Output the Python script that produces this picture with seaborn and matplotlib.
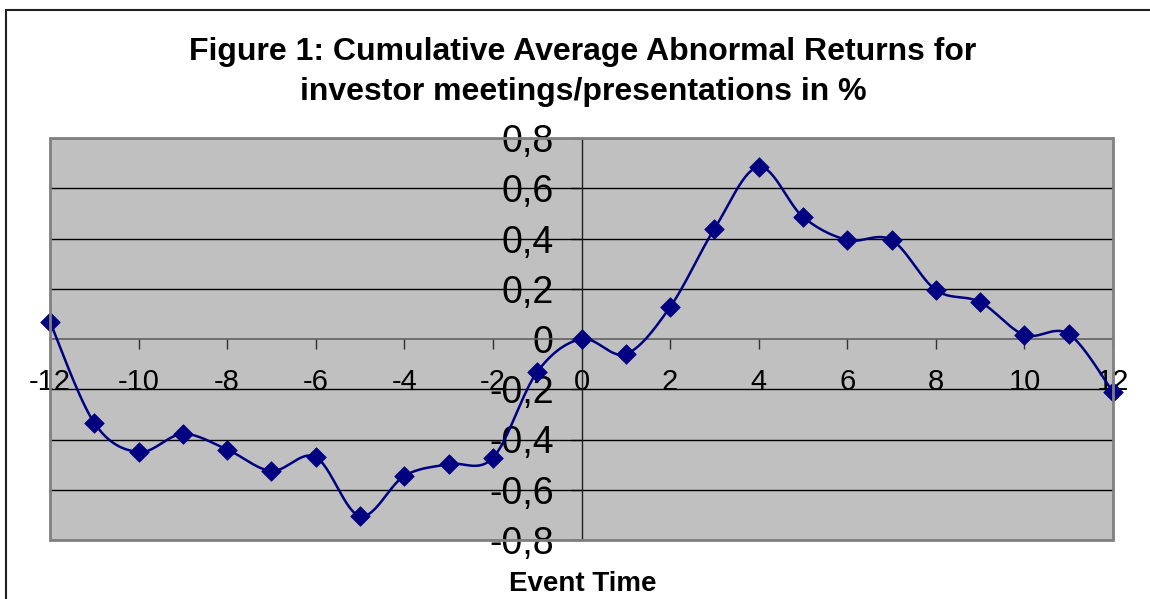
import numpy as np
import pandas as pd
import seaborn as sns
import matplotlib.pyplot as plt
from matplotlib.patches import Rectangle

### data
event_time = [-12, -11, -10, -9, -8, -7, -6, -5, -4, -3, -2, -1,
              0, 1, 2, 3, 4, 5, 6, 7, 8, 9, 10, 11, 12]
caar = [0.068, -0.334, -0.45, -0.378, -0.44, -0.525, -0.47, -0.705, -0.545, -0.498, -0.473, -0.131,
        0.0, -0.06, 0.127, 0.438, 0.685, 0.486, 0.394, 0.394, 0.195, 0.147, 0.016, 0.02, -0.211]
xticks = [-12, -10, -8, -6, -4, -2, 0, 2, 4, 6, 8, 10, 12]
yticks = [-0.8, -0.6, -0.4, -0.2, 0.0, 0.2, 0.4, 0.6, 0.8]
title_lines = ["Figure 1: Cumulative Average Abnormal Returns for",
               "investor meetings/presentations in %"]
xlabel = "Event Time"

sns.set_style("white")
plt.rcParams['font.family'] = ['Liberation Sans', 'DejaVu Sans']
plt.rcParams['text.color'] = 'black'
plt.rcParams['xtick.color'] = 'black'
plt.rcParams['ytick.color'] = 'black'


def smooth(x, y, n=30):
    # excel style smoothed line (catmull-rom through the points)
    x = np.asarray(x, float)
    y = np.asarray(y, float)
    px = np.concatenate([[x[0]], x, [x[-1]]])
    py = np.concatenate([[y[0]], y, [y[-1]]])
    t = np.linspace(0, 1, n)[:, None]
    xs, ys = [], []
    for i in range(1, len(px) - 2):
        p0, p1, p2, p3 = [np.array([px[j], py[j]]) for j in (i - 1, i, i + 1, i + 2)]
        c1 = p1 + (p2 - p0) / 6
        c2 = p2 - (p3 - p1) / 6
        pts = ((1 - t) ** 3) * p1 + 3 * ((1 - t) ** 2) * t * c1 + 3 * (1 - t) * t ** 2 * c2 + t ** 3 * p2
        xs.append(pts[:, 0])
        ys.append(pts[:, 1])
    return np.concatenate(xs), np.concatenate(ys)


df = pd.DataFrame({'t': event_time, 'caar': caar})
sx, sy = smooth(df['t'], df['caar'])
curve = pd.DataFrame({'t': sx, 'caar': sy})

fig = plt.figure(figsize=(11.5, 5.99), dpi=100)
ax = fig.add_axes([50 / 1150, 1 - 540 / 599, 1063 / 1150, 402 / 599])
ax.set_facecolor('#C0C0C0')

for v in yticks:
    if v != 0:
        ax.axhline(v, color='black', lw=1, zorder=1)

sns.lineplot(data=curve, x='t', y='caar', sort=False, estimator=None, color='#000080',
             lw=1.8, ax=ax, zorder=3)
sns.scatterplot(data=df, x='t', y='caar', marker='D', s=100, color='#000080',
                edgecolor='#000080', linewidth=0.5, ax=ax, zorder=4, clip_on=False)

ax.set_xlim(-12, 12)
ax.set_ylim(-0.8, 0.8)
ax.spines['left'].set_position(('data', 0))
ax.spines['bottom'].set_position(('data', 0))
ax.spines['left'].set_color('#202020')
ax.spines['bottom'].set_color('#606060')
ax.spines['left'].set_linewidth(1)
ax.spines['bottom'].set_linewidth(1.2)
ax.spines['top'].set_visible(False)
ax.spines['right'].set_visible(False)
ax.add_patch(Rectangle((0, 0), 1, 1, transform=ax.transAxes, fill=False,
                       edgecolor='#808080', lw=2, zorder=5, clip_on=False))

ax.set_xticks(xticks)
ax.set_xticklabels([str(v) for v in xticks])
ax.set_yticks(yticks)
ax.set_yticklabels([f"{v:g}".replace('.', ',') for v in yticks])
ax.tick_params(axis='x', direction='out', length=7, width=1, color='#303030',
               labelsize=21, pad=14, bottom=True)
ax.tick_params(axis='y', direction='out', length=8, width=1, color='#303030',
               labelsize=27, pad=12, left=True)
ax.set_xlabel('')
ax.set_ylabel('')

fig.text(0.507, 1 - 60 / 599, title_lines[0], ha='center', va='baseline',
         fontsize=23, fontweight='bold')
fig.text(0.507, 1 - 100 / 599, title_lines[1], ha='center', va='baseline',
         fontsize=23, fontweight='bold')
fig.text(0.507, 1 - 591 / 599, xlabel, ha='center', va='baseline',
         fontsize=20, fontweight='bold')

fig.add_artist(Rectangle((6 / 1150, -0.2), 1.5, 1.2 - 10 / 599, transform=fig.transFigure,
                         fill=False, edgecolor='#202020', lw=1.5))

fig.savefig('out.png', dpi=100)
